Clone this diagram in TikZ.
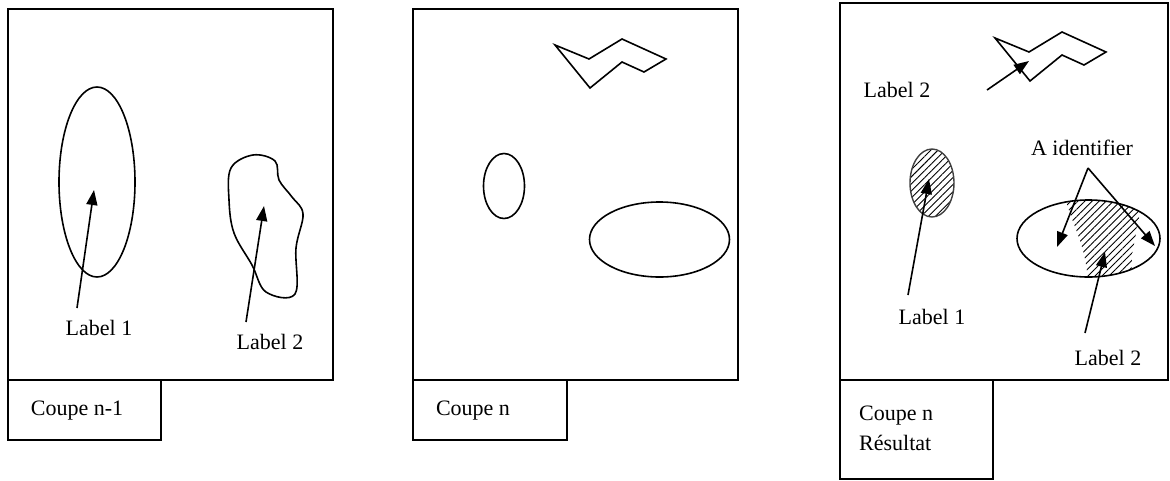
\documentclass[tikz,border=0pt]{standalone}
\usepackage{fontspec}
\setmainfont{Liberation Serif}
\usetikzlibrary{arrows.meta,patterns.meta}
\begin{document}
\begin{tikzpicture}[x=1pt,y=-1pt,
  box/.style={draw,line width=1.9pt},
  shp/.style={draw,line width=1.6pt},
  arr/.style={line width=1.6pt,-{Triangle[length=15pt,width=11pt]}},
  lbl/.style={font=\fontsize{22}{26}\selectfont,inner sep=0pt},
  hatch/.style={pattern={Lines[angle=45,distance=5pt,line width=0.9pt]}}]
\useasboundingbox (0,0) rectangle (1170,480);
% ---------- Panel 1 ----------
\draw[box] (8,9) rectangle (333,380);
\draw[box] (8,380) rectangle (161,440);
\node[lbl] (c1) at (77,411) {Coupe n-1};
\draw[shp] (97,182) ellipse [x radius=38, y radius=95];
\draw[shp] plot[smooth cycle,tension=0.6] coordinates {(253,155) (231,168) (229,200) (234,233) (252,265) (266,292) (295,294) (296,248) (303,214) (292,197) (279,180) (275,161)};
\node[lbl] (l1a) at (99,328) {Label 1};
\node[lbl] (l2a) at (270,342) {Label 2};
\coordinate (t1a) at (77,308);
\coordinate (h1a) at (94,190);
\coordinate (t2a) at (246,322);
\coordinate (h2a) at (264,206);
\draw[arr] (t1a) -- (h1a);
\draw[arr] (t2a) -- (h2a);
% ---------- Panel 2 ----------
\draw[box] (413,9) rectangle (738,380);
\draw[box] (413,380) rectangle (567,440);
\node[lbl] (c2) at (473,411) {Coupe n};
\draw[shp,line join=miter] (555,45) -- (589,59) -- (622,39) -- (666,59) -- (644,72) -- (622,62) -- (590,88) -- cycle;
\draw[shp] (504,186) ellipse [x radius=20.5, y radius=32.5];
\draw[shp] (659.5,239.5) ellipse [x radius=70, y radius=37.5];
% ---------- Panel 3 ----------
\draw[box] (840,3) rectangle (1168,380);
\draw[box] (840,380) rectangle (993,479);
\node[lbl,align=left,anchor=west] (c3) at (859,428) {Coupe n\\[4pt]Résultat};
\draw[shp,line join=miter] (995,38) -- (1029,52) -- (1062,32) -- (1106,52) -- (1084,65) -- (1062,55) -- (1030,81) -- cycle;
\node[lbl] (l2b) at (897,90) {Label 2};
\coordinate (t2b) at (987,90);
\coordinate (h2b) at (1029,61);
\draw[arr] (t2b) -- (h2b);
% small hatched ellipse
\fill[hatch] (932,183) ellipse [x radius=22, y radius=34];
\draw[line width=1.4pt,black!75] (932,183) ellipse [x radius=22, y radius=34];
\node[lbl] (l1b) at (932,317) {Label 1};
\coordinate (t1b) at (908,295);
\coordinate (h1b) at (929,179);
\draw[arr] (t1b) -- (h1b);
% big ellipse with hatched part
\begin{scope}
\clip (1088.5,238.5) ellipse [x radius=71.5, y radius=38.5];
\fill[hatch] (1063,190) .. controls (1072,228) and (1088,245) .. (1088,290) -- (1131,290) -- (1132,255) -- (1140,212) -- (1140,190) -- cycle;
\end{scope}
\draw[shp] (1088.5,238.5) ellipse [x radius=71.5, y radius=38.5];
\node[lbl] (ai) at (1082,148) {A identifier};
\coordinate (apex) at (1088,168);
\coordinate (hl) at (1057,247);
\coordinate (hr) at (1155,246);
\draw[arr] (apex) -- (hl);
\draw[arr] (apex) -- (hr);
\node[lbl] (l2c) at (1108,358) {Label 2};
\coordinate (t2c) at (1085,333);
\coordinate (h2c) at (1105,252);
\draw[arr] (t2c) -- (h2c);
\end{tikzpicture}
\end{document}
